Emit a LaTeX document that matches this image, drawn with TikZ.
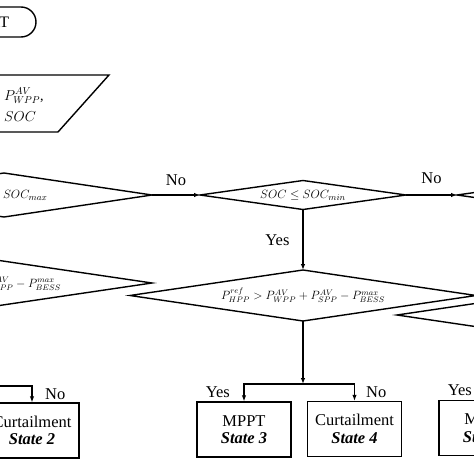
\documentclass[tikz,border=0pt]{standalone}
\usepackage{fontspec}
\setmainfont{Liberation Serif}
\usetikzlibrary{shapes.geometric,arrows.meta}
\begin{document}
\begin{tikzpicture}[x=1pt,y=-1pt,
  base/.style={draw=black, line width=1.4pt},
  dec/.style={base, diamond, inner sep=0pt, outer sep=0pt, aspect=7, font=\fontsize{12.5}{14}\selectfont},
  procbox/.style={base, rectangle, minimum width=94pt, minimum height=55pt, inner sep=0pt, align=center, font=\fontsize{16.5}{17.5}\selectfont},
  conn/.style={line width=1.1pt, -{Latex[length=6pt,width=4.5pt]}},
  lbl/.style={font=\fontsize{16.5}{18}\selectfont, inner sep=0pt},
  mtxt/.style={font=\fontsize{14}{16}\selectfont, inner sep=0pt},
]
\useasboundingbox (0,0) rectangle (474,474);
\clip (0,0) rectangle (474,474);
\fill[white] (0,0) rectangle (474,474);

% start terminal
\node[base, rectangle, rounded corners=15pt, minimum width=108pt, minimum height=30pt,
      inner sep=0pt, font=\fontsize{16}{18}\selectfont] (start) at (-18,22) {\hspace*{6pt}START};

% input parallelogram
\coordinate (pa) at (-60,75);
\coordinate (pb) at (109,75);
\coordinate (pc) at (58,132);
\coordinate (pd) at (-111,132);
\draw[base, line join=miter] (pa) -- (pb) -- (pc) -- (pd) -- cycle;
\node[mtxt, anchor=base west] (in1) at (4,100) {$P^{AV}_{WPP}$,};
\node[mtxt, anchor=base west] (in2) at (4,121) {$SOC$};

% decisions
\node[dec, minimum width=296pt, minimum height=44pt] (d1) at (4,195) {$SOC \geq SOC_{max}$};
\node[dec, minimum width=206pt, minimum height=29pt] (d2) at (303,195) {$SOC \leq SOC_{min}$};
\node[dec, minimum width=206pt, minimum height=29pt] (d5) at (560,195) {};
\node[dec, minimum width=346pt, minimum height=51pt, font=\fontsize{12}{14}\selectfont] (d3) at (303,295.5)
  {$P^{ref}_{HPP} > P^{AV}_{WPP} + P^{AV}_{SPP} - P^{max}_{BESS}$};
\node[dec, minimum width=346pt, minimum height=51pt, font=\fontsize{12}{14}\selectfont] (d4) at (-21,283)
  {$P^{ref}_{HPP} > P^{AV}_{WPP} + P^{AV}_{SPP} - P^{max}_{BESS}$};
\node[dec, minimum width=346pt, minimum height=51pt] (d6) at (570,315) {};

% states
\node[procbox] (s2) at (32,430.5) {Curtailment\\\textbf{\textit{State 2}}};
\node[procbox] (s3) at (244,429.5) {MPPT\\\textbf{\textit{State 3}}};
\node[procbox] (s4) at (354.5,429) {Curtailment\\\textbf{\textit{State 4}}};
\node[procbox] (s5) at (486,428) {MPPT\\\textbf{\textit{State 5}}};

% connectors
\draw[conn] (d1.east) -- node[lbl, above=9pt] (no1) {No} (d2.west);
\draw[conn] (d2.east) -- node[lbl, above=11pt] (no2) {No} (d5.west);
\draw[conn] (d2.south) -- node[lbl, left=13pt] (yes1) {Yes} (d3.north);

\coordinate (j3) at (303,384);
\draw[conn] (d3.south) -- (j3);
\draw[conn] (j3) -| (s3.north);
\draw[conn] (j3) -| (s4.north);

\coordinate (j4) at (-21,386);
\draw[conn] (j4) -| (s2.north);

% branch labels
\node[lbl, anchor=base west] (no3) at (45,399) {No};
\node[lbl, anchor=base east] (yes3) at (230,397) {Yes};
\node[lbl, anchor=base west] (no4) at (366,397) {No};
\node[lbl, anchor=base east] (yes5) at (472,395) {Yes};
\end{tikzpicture}
\end{document}
